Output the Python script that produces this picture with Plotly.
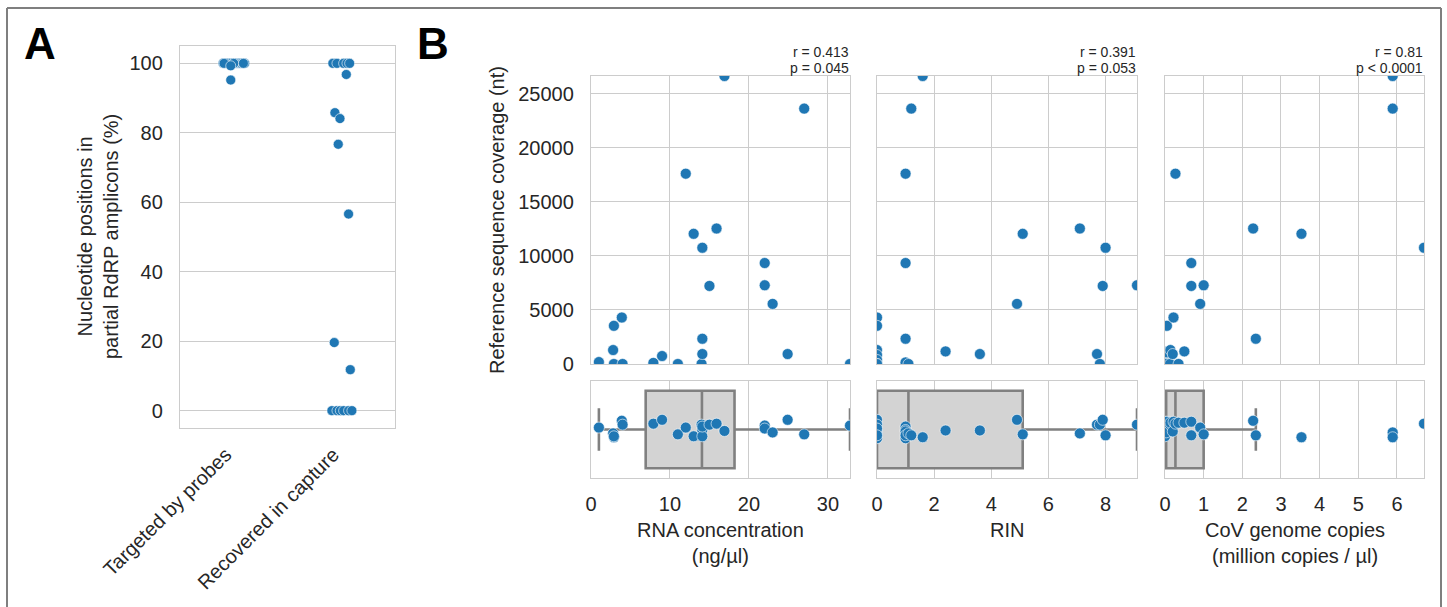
import numpy as np
import plotly.graph_objects as go

# ---------------- data ----------------
# Panel A (stripplot)
categories_a = ["Targeted by probes", "Recovered in capture"]
targeted_pct = [100, 100, 100, 100, 100, 100, 100, 100, 100, 100, 100, 100, 100, 100, 100, 100, 99.3, 95.2]
targeted_jitter = [-0.099, -0.08, -0.062, -0.04, -0.022, -0.005, 0.016, 0.03, 0.047, 0.06, 0.071, 0.085,
                   0.102, -0.09, 0.0, 0.09, -0.028, -0.028]
recovered_pct = [100, 100, 100, 100, 100, 96.8, 85.8, 84.1, 76.7, 56.6, 19.6, 11.8, 0, 0, 0, 0, 0, 0]
recovered_jitter = [-0.078, -0.04, 0.022, 0.053, 0.078, 0.047, -0.059, -0.012, -0.028, 0.068, -0.065,
                    0.084, -0.087, -0.04, -0.009, 0.022, 0.068, 0.099]
pct_ticks = [0, 20, 40, 60, 80, 100]

# Panel B
conc = [1.0, 2.8, 2.9, 2.9, 3.9, 4.0, 7.9, 9.0, 11.0, 12.0, 13.0, 14.0, 14.1, 14.1, 14.1, 15.0, 15.9,
        16.9, 22.0, 22.0, 23.0, 24.9, 27.0, 32.8]
conc_cov = [180, 1291, 3534, 0, 4302, 0, 100, 738, 0, 17609, 12047, 0, 10756, 2336, 922, 7222, 12538,
            26650, 9342, 7284, 5562, 922, 23632, 0]
conc_jitter = [0.02, -0.04, -0.08, -0.07, 0.09, 0.05, 0.06, 0.10, -0.05, 0.02, -0.07, 0.05, -0.005,
               -0.07, 0.03, 0.05, 0.06, -0.015, 0.04, 0.01, -0.03, 0.10, -0.05, 0.04]

rin = [0, 0, 0, 0, 0, 0, 0, 1.0, 1.0, 1.0, 1.0, 1.0, 1.1, 1.2, 1.6, 2.4, 3.6, 4.9, 5.1, 7.1, 7.7, 7.8,
       7.9, 8.0, 9.1]
rin_cov = [4302, 3534, 1291, 830, 370, 0, 0, 17609, 9342, 2336, 0, 150, 0, 23632, 26650, 1168, 922,
           5562, 12047, 12538, 922, 0, 7222, 10756, 7284]
rin_jitter = [0.10, 0.05, -0.005, -0.04, -0.09, 0.01, -0.06, 0.03, -0.005, -0.02, -0.09, -0.06, -0.04,
              -0.06, -0.08, -0.01, -0.01, 0.10, -0.05, -0.04, 0.05, 0.05, 0.10, -0.06, 0.05]

copies = [0.0, 0.0, 0.01, 0.02, 0.02, 0.03, 0.03, 0.05, 0.13, 0.14, 0.2, 0.22, 0.27, 0.35, 0.5, 0.68,
          0.68, 0.91, 1.0, 2.28, 2.35, 3.53, 5.89, 5.89, 6.7]
copies_cov = [300, 0, 0, 900, 0, 1100, 0, 3534, 0, 1291, 922, 4302, 17609, 0, 1168, 9342, 7222, 5562,
              7284, 12538, 2336, 12047, 26650, 23632, 10756]
copies_jitter = [0.05, -0.07, -0.02, 0.08, 0.06, 0.05, -0.03, 0.08, 0.05, 0.07, -0.02, 0.08, 0.06, 0.07,
                 0.07, 0.08, -0.06, 0.02, -0.05, 0.09, -0.06, -0.08, -0.03, -0.08, 0.06]

stats_r = ["r = 0.413", "r = 0.391", "r = 0.81"]
stats_p = ["p = 0.045", "p = 0.053", "p < 0.0001"]
x_titles = ["RNA concentration<br>(ng/µl)", "RIN", "CoV genome copies<br>(million copies / µl)"]
x_ticks = [[0, 10, 20, 30], [0, 2, 4, 6, 8], [0, 1, 2, 3, 4, 5, 6]]
cov_ticks = [0, 5000, 10000, 15000, 20000, 25000]

# ---------------- style / layout ----------------
W, H = 1447, 607
BLUE = "#1f77b4"
GRID = "#cccccc"
TXT = "#262626"
FONT = "Liberation Sans, Arial, sans-serif"
TICK_FS = 20
LAB_FS = 20


def fx(px):
    return px / W


def fy(py):
    return 1 - py / H


A_X = (180, 395)
A_Y = (46, 428)
B_COLS = [(591, 850), (877, 1137), (1165, 1424)]
B_TOP = (76, 364)
B_BOT = (381, 478)

fig = go.Figure()
marker_a = dict(color=BLUE, size=10, line=dict(color="white", width=0.6))
marker_b = dict(color=BLUE, size=11, line=dict(color="white", width=0.6))

# Panel A points
for i, (vals, jit) in enumerate([(targeted_pct, targeted_jitter), (recovered_pct, recovered_jitter)]):
    fig.add_trace(go.Scatter(x=[i + j for j in jit], y=vals, mode="markers", marker=marker_a,
                             xaxis="x", yaxis="y", showlegend=False, hoverinfo="skip"))


def box_stats(v):
    v = np.asarray(v, dtype=float)
    q1, med, q3 = np.percentile(v, [25, 50, 75])
    iqr = q3 - q1
    lo = v[v >= q1 - 1.5 * iqr].min()
    hi = v[v <= q3 + 1.5 * iqr].max()
    return q1, med, q3, lo, hi


panels = [(conc, conc_cov, conc_jitter), (rin, rin_cov, rin_jitter), (copies, copies_cov, copies_jitter)]
for k, (xv, cv, jv) in enumerate(panels):
    top_ax = k + 2
    bot_ax = k + 5
    fig.add_trace(go.Scatter(x=xv, y=cv, mode="markers", marker=marker_b, xaxis=f"x{top_ax}",
                             yaxis=f"y{top_ax}", showlegend=False, hoverinfo="skip"))
    q1, med, q3, lo, hi = box_stats(xv)
    fig.add_trace(go.Box(y=[0], q1=[q1], median=[med], q3=[q3], lowerfence=[lo], upperfence=[hi],
                         orientation="h", width=0.8, fillcolor="#d3d3d3",
                         line=dict(color="#808080", width=2.6), whiskerwidth=0.55, boxpoints=False,
                         xaxis=f"x{bot_ax}", yaxis=f"y{bot_ax}", showlegend=False, hoverinfo="skip"))
    fig.add_trace(go.Scatter(x=xv, y=jv, mode="markers", marker=marker_b, xaxis=f"x{bot_ax}",
                             yaxis=f"y{bot_ax}", showlegend=False, hoverinfo="skip"))

frame = dict(showline=True, mirror=True, linecolor=GRID, linewidth=1.3, zeroline=False,
             gridcolor=GRID, gridwidth=1.1, automargin=False,
             tickfont=dict(family=FONT, size=TICK_FS, color=TXT))
invis_ticks = dict(ticks="outside", tickcolor="rgba(0,0,0,0)")

layout = dict(
    width=W, height=H, margin=dict(l=0, r=0, t=0, b=0, autoexpand=False), autosize=False,
    paper_bgcolor="white", plot_bgcolor="white",
    font=dict(family=FONT, color=TXT), showlegend=False,
)

# Panel A axes
layout["xaxis"] = dict(frame, domain=[fx(A_X[0]), fx(A_X[1])], range=[-0.5, 1.5], tickmode="array",
                       tickvals=[0, 1], ticktext=categories_a, tickangle=-45, showgrid=False,
                       ticklen=6, ticklabelshift=-8, **invis_ticks, anchor="y")
layout["yaxis"] = dict(frame, domain=[fy(A_Y[1]), fy(A_Y[0])], range=[-5, 105], tickmode="array",
                       tickvals=pct_ticks, showgrid=True, ticklen=12, **invis_ticks, anchor="x")

cov_max = max(max(conc_cov), max(rin_cov), max(copies_cov))
x_max = [max(conc), max(rin), max(copies)]
for k in range(3):
    c0, c1 = B_COLS[k]
    t, b = k + 2, k + 5
    layout[f"xaxis{t}"] = dict(frame, domain=[fx(c0), fx(c1)], range=[0, x_max[k]], tickmode="array",
                               tickvals=x_ticks[k], showticklabels=False, showgrid=True, anchor=f"y{t}")
    layout[f"yaxis{t}"] = dict(frame, domain=[fy(B_TOP[1]), fy(B_TOP[0])], range=[0, cov_max],
                               tickmode="array", tickvals=cov_ticks, tickformat="d",
                               showticklabels=(k == 0), showgrid=True, ticklen=12, **invis_ticks,
                               anchor=f"x{t}")
    layout[f"xaxis{b}"] = dict(frame, domain=[fx(c0), fx(c1)], range=[0, x_max[k]], tickmode="array",
                               tickvals=x_ticks[k], showgrid=True, ticklen=8, **invis_ticks,
                               anchor=f"y{b}")
    layout[f"yaxis{b}"] = dict(frame, domain=[fy(B_BOT[1]), fy(B_BOT[0])], range=[-0.5, 0.5],
                               showticklabels=False, showgrid=False, anchor=f"x{b}")

annotations = []
# panel letters
annotations.append(dict(text="<b>A</b>", x=fx(40), y=fy(43), xref="paper", yref="paper",
                        xanchor="center", yanchor="middle",
                        showarrow=False, font=dict(family=FONT, size=44, color="black")))
annotations.append(dict(text="<b>B</b>", x=fx(433), y=fy(43), xref="paper", yref="paper",
                        xanchor="center", yanchor="middle",
                        showarrow=False, font=dict(family=FONT, size=44, color="black")))
# y titles
annotations.append(dict(text="Nucleotide positions in<br>partial RdRP amplicons (%)", textangle=-90,
                        x=fx(98), y=fy((A_Y[0] + A_Y[1]) / 2), xref="paper", yref="paper",
                        xanchor="center", yanchor="middle",
                        showarrow=False, font=dict(family=FONT, size=LAB_FS, color=TXT)))
annotations.append(dict(text="Reference sequence coverage (nt)", textangle=-90,
                        x=fx(497), y=fy((B_TOP[0] + B_TOP[1]) / 2), xref="paper", yref="paper",
                        xanchor="center", yanchor="middle",
                        showarrow=False, font=dict(family=FONT, size=LAB_FS, color=TXT)))
for k in range(3):
    c0, c1 = B_COLS[k]
    annotations.append(dict(text=stats_r[k], x=fx(c1 + 1), y=fy(52), xref="paper",
                            yref="paper", xanchor="right", yanchor="middle", align="right",
                            showarrow=False, font=dict(family=FONT, size=14, color=TXT)))
    annotations.append(dict(text=stats_p[k], x=fx(c1 + 1), y=fy(68), xref="paper",
                            yref="paper", xanchor="right", yanchor="middle", align="right",
                            showarrow=False, font=dict(family=FONT, size=14, color=TXT)))
    annotations.append(dict(text=x_titles[k], x=fx((c0 + c1) / 2), y=fy(517), xref="paper",
                            yref="paper", xanchor="center", yanchor="top", align="center",
                            showarrow=False, font=dict(family=FONT, size=LAB_FS, color=TXT)))
layout["annotations"] = annotations

# outer border of the figure
border = dict(type="line", xref="paper", yref="paper", line=dict(color="#7f7f7f", width=2))
layout["shapes"] = [
    dict(border, x0=fx(7), x1=fx(1441), y0=fy(8), y1=fy(8)),
    dict(border, x0=fx(7), x1=fx(7), y0=fy(8), y1=0),
    dict(border, x0=fx(1441), x1=fx(1441), y0=fy(8), y1=0),
]

fig.update_layout(**layout)
fig.write_html("out.html")
